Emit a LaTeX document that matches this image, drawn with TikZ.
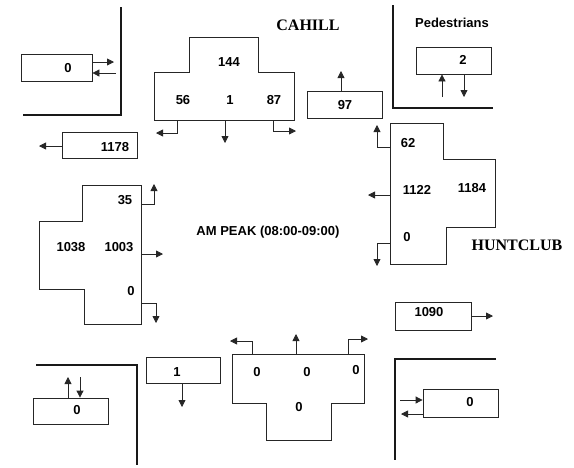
\documentclass[tikz,border=0pt]{standalone}
\usepackage{fontspec}
\setmainfont{Liberation Serif}
\setsansfont{Liberation Sans}
\usetikzlibrary{arrows.meta}
\begin{document}
\begin{tikzpicture}[x=1pt,y=-1pt,
  thin line/.style={line width=0.8pt,draw=black!85},
  wall/.style={line width=2.4pt,draw=black!90},
  box/.style={thin line,rectangle,inner sep=0pt},
  num/.style={font=\sffamily\bfseries\fontsize{13}{13}\selectfont,inner sep=0pt},
  street/.style={font=\rmfamily\bfseries\fontsize{16}{16}\selectfont,inner sep=0pt},
  arr/.style={thin line,-{Triangle[width=7pt,length=7pt]}},
  approach/.style={thin line}]
\useasboundingbox (0,0) rectangle (574,467);
% walls
\draw[wall] (121,7) -- (121,115) -- (23,115);
\draw[wall] (393,5) -- (393,108) -- (493,108);
\draw[wall] (36,365) -- (137,365) -- (137,465);
\draw[wall] (496,359) -- (395,359) -- (395,460);
% titles
\node[street] (cahill) at (308,25) {CAHILL};
\node[street] (huntclub) at (517,245) {HUNTCLUB};
\node[num] (ped) at (452,23) {Pedestrians};
\node[num] (peak) at (268,232) {AM PEAK (08:00-09:00)};
% boxes
\node[box,minimum width=71pt,minimum height=27pt] (bNW) at (56.5,67.5) {};
\node[num] (tNW) at (68,68) {0};
\node[box,minimum width=75pt,minimum height=26pt] (b1178) at (99.5,145) {};
\node[num] (t1178) at (115,147) {1178};
\node[box,minimum width=75pt,minimum height=27pt] (b97) at (344.5,104.5) {};
\node[num] (t97) at (345,105) {97};
\node[box,minimum width=75pt,minimum height=27pt] (bPed) at (453.5,60.5) {};
\node[num] (tPed) at (463,60) {2};
\node[box,minimum width=76pt,minimum height=28pt] (b1090) at (433,316) {};
\node[num] (t1090) at (429,312) {1090};
\node[box,minimum width=75pt,minimum height=28pt] (bSE) at (460.5,403) {};
\node[num] (tSE) at (470,402) {0};
\node[box,minimum width=75pt,minimum height=26pt] (bSW) at (70.5,411) {};
\node[num] (tSW) at (77,410) {0};
\node[box,minimum width=74pt,minimum height=26pt] (b1) at (183,370) {};
\node[num] (t1) at (177,372) {1};
% box arrows
\coordinate (nwOut) at (114,62);
\coordinate (nwIn) at (116,73);
\draw[arr] (bNW.east |- nwOut) -- (nwOut);
\draw[arr] (nwIn) -- (bNW.east |- nwIn);
\coordinate (w1178) at (39,146);
\draw[arr] (b1178.west |- w1178) -- (w1178);
\coordinate (n97) at (341,71);
\draw[arr] (b97.north -| n97) -- (n97);
\coordinate (pedUp) at (442,97);
\coordinate (pedDn) at (464,97);
\draw[arr] (pedUp) -- (bPed.south -| pedUp);
\draw[arr] (bPed.south -| pedDn) -- (pedDn);
\coordinate (e1090) at (493,316);
\draw[arr] (b1090.east |- e1090) -- (e1090);
\coordinate (seIn) at (400,400);
\coordinate (seOut) at (401,414);
\draw[arr] (seIn) -- (bSE.west |- seIn);
\draw[arr] (bSE.west |- seOut) -- (seOut);
\coordinate (swUp) at (68,377);
\coordinate (swDn) at (80,377);
\draw[arr] (bSW.north -| swUp) -- (swUp);
\draw[arr] (swDn) -- (bSW.north -| swDn);
\coordinate (s1) at (182,407);
\draw[arr] (b1.south -| s1) -- (s1);
% north approach
\draw[approach] (189,37) -- (258,37) -- (258,72) -- (294,72) -- (294,120) -- (154,120) -- (154,72) -- (189,72) -- cycle;
\node[num] (n144) at (229,62) {144};
\node[num] (n56) at (183,100) {56};
\node[num] (n1) at (230,100) {1};
\node[num] (n87) at (274,100) {87};
\draw[arr] (177,120) -- (177,133) -- (156,133);
\draw[arr] (225,120) -- (225,143);
\draw[arr] (273,120) -- (273,131) -- (296,131);
% east approach
\draw[approach] (390,123) -- (443,123) -- (443,159) -- (495,159) -- (495,227) -- (446,227) -- (446,264) -- (390,264) -- cycle;
\node[num] (e62) at (408,143) {62};
\node[num] (e1122) at (417,190) {1122};
\node[num] (e1184) at (472,188) {1184};
\node[num] (e0) at (407,237) {0};
\draw[arr] (390,147) -- (377,147) -- (377,125);
\draw[arr] (390,195) -- (368,195);
\draw[arr] (390,243) -- (377,243) -- (377,266);
% west approach
\draw[approach] (82,185) -- (141,185) -- (141,324) -- (84,324) -- (84,289) -- (39,289) -- (39,221) -- (82,221) -- cycle;
\node[num] (w35) at (125,200) {35};
\node[num] (w1038) at (71,247) {1038};
\node[num] (w1003) at (119,247) {1003};
\node[num] (w0) at (131,291) {0};
\draw[arr] (141,204) -- (154,204) -- (154,184);
\draw[arr] (141,254) -- (163,254);
\draw[arr] (141,303) -- (156,303) -- (156,323);
% south approach
\draw[approach] (232,354) -- (364,354) -- (364,403) -- (331,403) -- (331,440) -- (266,440) -- (266,403) -- (232,403) -- cycle;
\node[num] (sa) at (257,372) {0};
\node[num] (sb) at (307,372) {0};
\node[num] (sc) at (356,370) {0};
\node[num] (sd) at (299,407) {0};
\draw[arr] (252,354) -- (252,341) -- (230,341);
\draw[arr] (296,354) -- (296,334);
\draw[arr] (348,354) -- (348,339) -- (368,339);
\end{tikzpicture}
\end{document}
